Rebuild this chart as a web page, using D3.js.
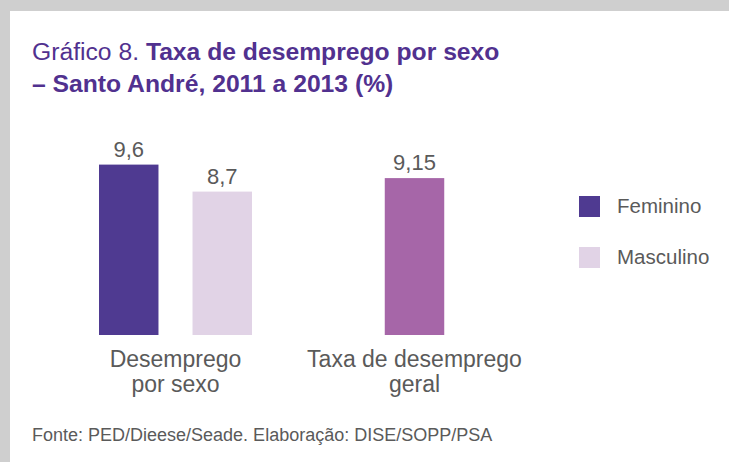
<!DOCTYPE html>
<html>
<head>
<meta charset="utf-8">
<script src="https://cdn.jsdelivr.net/npm/d3@7/dist/d3.min.js"></script>
<style>
  html, body { margin: 0; padding: 0; background: #cfcfcf; }
  svg { display: block; font-family: "Liberation Sans", Arial, Helvetica, sans-serif; }
</style>
</head>
<body>
<div id="chart"></div>
<script>
// chart values
const groups = ["Desemprego por sexo", "Taxa de desemprego geral"];
const groupLabelLines = [["Desemprego", "por sexo"], ["Taxa de desemprego", "geral"]];
const seriesNames = ["Feminino", "Masculino"];
const sexValues = [9.6, 8.7];
const generalValue = 9.15;

const titleRegular = "Gráfico 8. ";
const titleBold1 = "Taxa de desemprego por sexo";
const titleBold2 = "– Santo André, 2011 a 2013 (%)";
const sourceText = "Fonte: PED/Dieese/Seade. Elaboração: DISE/SOPP/PSA";

const seriesColors = ["#4f3a91", "#e1d3e6"];
const generalColor = "#a666a8";
const textGrey = "#5a5a5a";
const titleColor = "#51318f";

const width = 729, height = 462;

const svg = d3.select("#chart").append("svg")
    .attr("width", width)
    .attr("height", height)

// grey page + white card
svg.append("rect").attr("width", width).attr("height", height).attr("fill", "#cfcfcf")
svg.append("rect").attr("x", 10).attr("y", 11).attr("width", width - 10).attr("height", height - 11).attr("fill", "#ffffff")

// title
let title = svg.append("text")
    .attr("x", 32)
    .attr("y", 60)
    .attr("fill", titleColor)
    .attr("font-size", 24.7)
title.append("tspan").text(titleRegular)
title.append("tspan").attr("font-weight", "bold").text(titleBold1)
svg.append("text")
    .attr("x", 32)
    .attr("y", 92)
    .attr("fill", titleColor)
    .attr("font-size", 24.7)
    .attr("font-weight", "bold")
    .text(titleBold2)

// scales
let baseY = 335;
let x0 = d3.scaleBand()
    .domain(groups)
    .range([56, 534])

let x1 = d3.scaleBand()
    .domain(seriesNames)
    .range([0, 153])
    .paddingInner(0.364)

// value axis not starting at zero (bars in the source are cut)
let y = d3.scaleLinear()
    .domain([3.92, 10])
    .range([baseY, baseY - 30 * (10 - 3.92)])

let fmt = v => String(v).replace(".", ",")

// bars: group 1 (by sex)
let g1 = x0(groups[0]) + x0.bandwidth() / 2 - 76.5;
let sexData = seriesNames.map((s, i) => ({ name: s, value: sexValues[i], color: seriesColors[i] }))

svg.selectAll("rect.sex")
    .data(sexData)
    .enter().append("rect")
    .attr("class", "sex")
    .attr("x", d => g1 + x1(d.name))
    .attr("y", d => y(d.value))
    .attr("width", x1.bandwidth())
    .attr("height", d => baseY - y(d.value))
    .attr("fill", d => d.color)

svg.selectAll("text.sexval")
    .data(sexData)
    .enter().append("text")
    .attr("class", "sexval")
    .attr("x", d => g1 + x1(d.name) + x1.bandwidth() / 2)
    .attr("y", d => y(d.value) - 8)
    .attr("text-anchor", "middle")
    .attr("font-size", 22)
    .attr("fill", textGrey)
    .text(d => fmt(d.value))

// bar: group 2 (general rate)
let g2 = x0(groups[1]) + x0.bandwidth() / 2;
svg.append("rect")
    .attr("x", g2 - x1.bandwidth() / 2)
    .attr("y", y(generalValue))
    .attr("width", x1.bandwidth())
    .attr("height", baseY - y(generalValue))
    .attr("fill", generalColor)

svg.append("text")
    .attr("x", g2)
    .attr("y", y(generalValue) - 8)
    .attr("text-anchor", "middle")
    .attr("font-size", 22)
    .attr("fill", textGrey)
    .text(fmt(generalValue))

// category labels
groups.forEach((g, i) => {
    let t = svg.append("text")
        .attr("text-anchor", "middle")
        .attr("font-size", 23)
        .attr("fill", textGrey)
    groupLabelLines[i].forEach((line, j) => {
        t.append("tspan")
            .attr("x", x0(g) + x0.bandwidth() / 2)
            .attr("y", 367 + j * 25)
            .text(line)
    })
})

// legend
let legend = svg.selectAll("g.legend")
    .data(seriesNames)
    .enter().append("g")
    .attr("class", "legend")
    .attr("transform", (d, i) => "translate(579," + (196 + i * 51) + ")")

legend.append("rect")
    .attr("width", 21)
    .attr("height", 21)
    .attr("fill", (d, i) => seriesColors[i])

legend.append("text")
    .attr("x", 38)
    .attr("y", 16.5)
    .attr("font-size", 20.5)
    .attr("fill", textGrey)
    .text(d => d)

// source
svg.append("text")
    .attr("x", 32)
    .attr("y", 441)
    .attr("font-size", 18)
    .attr("fill", textGrey)
    .text(sourceText)
</script>
</body>
</html>
